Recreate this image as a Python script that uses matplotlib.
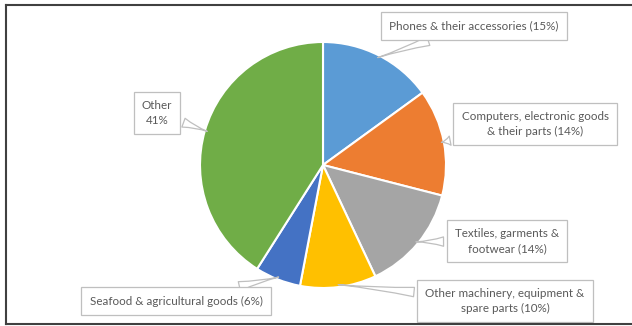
import numpy as np
import matplotlib
matplotlib.use("Agg")
import matplotlib.pyplot as plt

labels = ["Phones & their accessories (15%)",
          "Computers, electronic goods\n& their parts (14%)",
          "Textiles, garments &\nfootwear (14%)",
          "Other machinery, equipment &\nspare parts (10%)",
          "Seafood & agricultural goods (6%)",
          "Other\n41%"]
shares = [15, 14, 14, 10, 6, 41]
colors = ["#5B9BD5", "#ED7D31", "#A5A5A5", "#FFC000", "#4472C4", "#70AD47"]

# label box centres in pixels (x from left, y from top)
box_pos = [(474, 26), (535, 124), (507, 241), (505, 301), (176, 301), (157, 113)]

W, H = 632, 326
fig = plt.figure(figsize=(W / 100, H / 100), dpi=100)
ax = fig.add_axes([0, 0, 1, 1])

cx, cy, r = 323, H - 165, 123
wedges, _ = ax.pie(shares, colors=colors, startangle=90, counterclock=False,
                   center=(cx, cy), radius=r,
                   wedgeprops=dict(edgecolor="white", linewidth=1.5))
ax.set_xlim(0, W)
ax.set_ylim(0, H)
ax.set_aspect("equal")
ax.axis("off")

for w, lab, (bx, by) in zip(wedges, labels, box_pos):
    ang = np.deg2rad((w.theta1 + w.theta2) / 2)
    px = cx + r * 0.98 * np.cos(ang)
    py = cy + r * 0.98 * np.sin(ang)
    ax.annotate(lab, xy=(px, py), xytext=(bx, H - by),
                ha="center", va="center", fontsize=8.4, family="Lato",
                color="#595959", linespacing=1.5,
                bbox=dict(boxstyle="square,pad=0.7", fc="white", ec="#BFBFBF", lw=0.9),
                arrowprops=dict(arrowstyle="wedge,tail_width=0.8,shrink_factor=0.3",
                                fc="white", ec="#BFBFBF", lw=0.9, shrinkB=0))

# outer frame lines
fig.add_artist(plt.Line2D([6 / W, 6 / W], [1 - 4.5 / H, 1 - 324 / H], color="#404040", lw=1.5))
fig.add_artist(plt.Line2D([6 / W, 1], [1 - 4.5 / H, 1 - 4.5 / H], color="#404040", lw=1.5))
fig.add_artist(plt.Line2D([6 / W, 1], [1 - 324 / H, 1 - 324 / H], color="#404040", lw=1.5))

fig.savefig("out.png", dpi=100, facecolor="white")
